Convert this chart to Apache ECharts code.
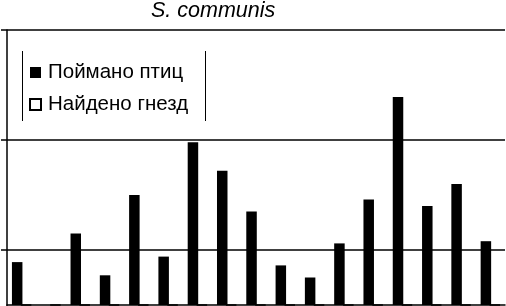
<!DOCTYPE html>
<html>
<head>
<meta charset="utf-8">
<script src="https://cdn.jsdelivr.net/npm/echarts@6/dist/echarts.min.js"></script>
<style>html,body{margin:0;padding:0;background:#fff;overflow:hidden;}#c{width:506px;height:360px;}</style>
</head>
<body>
<div id="c"></div>
<script>
var categories = ['1','2','3','4','5','6','7','8','9','10','11','12','13','14','15','16','17'];
var birdsCaught = [3.9, 0, 6.5, 2.7, 10.0, 4.4, 14.8, 12.2, 8.5, 3.6, 2.5, 5.6, 9.6, 18.9, 9.0, 11.0, 5.8];
var nestsFound = [0, 0, 0, 0, 0, 0, 0, 0, 0, 0, 0, 0, 0, 0, 0, 0, 0];
var seriesNames = ['Поймано птиц', 'Найдено гнезд'];
var titleText = 'S. communis';

var chart = echarts.init(document.getElementById('c'), null, {renderer: 'canvas'});
chart.setOption({
  animation: false,
  backgroundColor: '#ffffff',
  title: {
    text: titleText, left: 151, top: 0, padding: 0,
    textStyle: {fontFamily: 'Liberation Sans', fontStyle: 'italic', fontWeight: 'normal', fontSize: 21.5, lineHeight: 22, color: '#000'}
  },
  legend: {
    orient: 'vertical', left: 29, top: 62, padding: 0, itemGap: 11,
    itemWidth: 11, itemHeight: 11, icon: 'rect',
    textStyle: {fontFamily: 'Liberation Sans', fontSize: 20.5, lineHeight: 20, color: '#000', padding: [0,0,0,2]},
    data: seriesNames
  },
  graphic: [
    {type: 'line', shape: {x1: 22.5, y1: 51, x2: 22.5, y2: 121}, style: {stroke: '#000', lineWidth: 1}},
    {type: 'line', shape: {x1: 205.5, y1: 51, x2: 205.5, y2: 121}, style: {stroke: '#000', lineWidth: 1}}
  ],
  grid: {left: 7, right: 1, top: 30, bottom: 0, containLabel: false},
  xAxis: {
    type: 'category', data: categories,
    axisLine: {onZero: true, lineStyle: {color: '#000', width: 1.5}},
    axisTick: {show: false}, axisLabel: {show: false}, splitLine: {show: false}
  },
  yAxis: {
    type: 'value', min: -5, max: 25, interval: 10,
    axisLine: {show: true, lineStyle: {color: '#000', width: 1.5}},
    axisTick: {show: true, inside: false, length: 6, lineStyle: {color: '#000', width: 1.5}},
    axisLabel: {show: false},
    splitLine: {show: true, lineStyle: {color: '#000', width: 1.5}}
  },
  series: [
    {name: seriesNames[0], type: 'bar', data: birdsCaught, barWidth: 10.5, barGap: '-15%',
     itemStyle: {color: '#000', borderColor: '#000', borderWidth: 0}},
    {name: seriesNames[1], type: 'bar', data: nestsFound, barWidth: 10.5,
     itemStyle: {color: '#fff', borderColor: '#000', borderWidth: 1.5}}
  ]
});
</script>
</body>
</html>
